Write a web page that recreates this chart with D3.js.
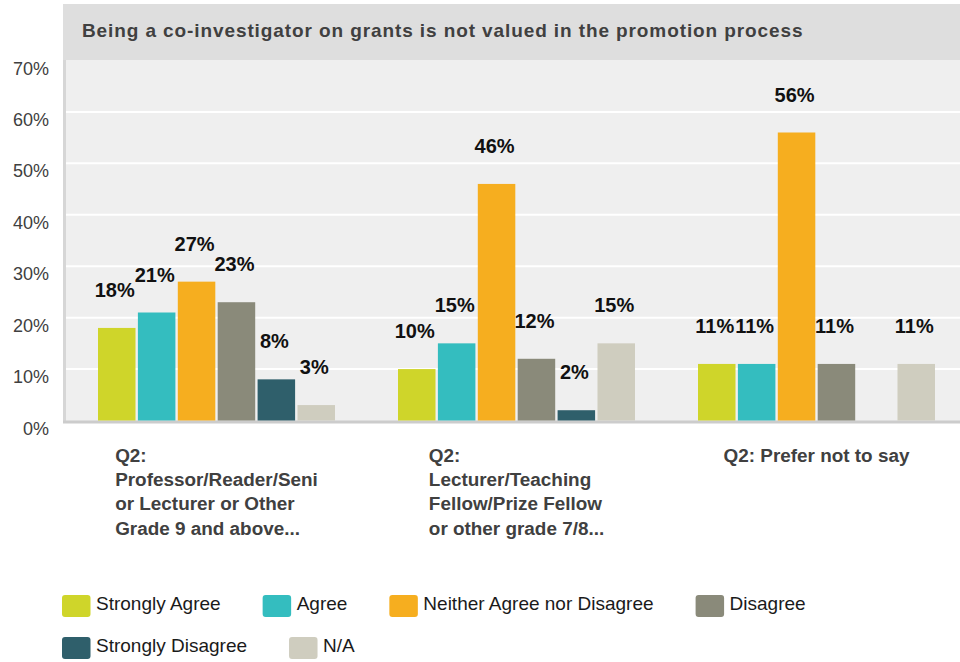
<!DOCTYPE html>
<html>
<head>
<meta charset="utf-8">
<script src="https://cdn.jsdelivr.net/npm/d3@7"></script>
<style>
  body { margin: 0; background: #fff; }
  text { font-family: "Liberation Sans", Arial, sans-serif; }
</style>
</head>
<body>
<div id="chart"></div>
<script>
let width_chart = 960;
let height_chart = 662;

const titre = "Being a co-investigator on grants is not valued in the promotion process";

// categories (already wrapped like in the original)
const groupes = ["prof", "lect", "prefer"];
const groupeLignes = [
  ["Q2:", "Professor/Reader/Seni", "or Lecturer or Other", "Grade 9 and above..."],
  ["Q2:", "Lecturer/Teaching", "Fellow/Prize Fellow", "or other grade 7/8..."],
  ["Q2: Prefer not to say"]
];

const series = ["Strongly Agree", "Agree", "Neither Agree nor Disagree", "Disagree", "Strongly Disagree", "N/A"];
const couleurs = ["#cfd52a", "#34bdbf", "#f6ae1f", "#8a8a7a", "#2f5f6b", "#cfcdbf"];

// values in % per series, one entry per group
const stronglyAgree    = [18, 10, 11];
const agree            = [21, 15, 11];
const neither          = [27, 46, 56];
const disagree         = [23, 12, 11];
const stronglyDisagree = [8, 2, 0];
const na               = [3, 15, 11];

const yTicks = [0, 10, 20, 30, 40, 50, 60, 70];

const valeurs = [stronglyAgree, agree, neither, disagree, stronglyDisagree, na];

let svg = d3.select('#chart').append('svg')
    .attr('width', width_chart)
    .attr('height', height_chart);

// title bar
svg.append("rect")
    .attr("x", 63).attr("y", 4)
    .attr("width", 897).attr("height", 56)
    .attr("fill", "#dedede");
svg.append("text")
    .attr("x", 82).attr("y", 37)
    .attr("font-size", "19px")
    .attr("font-weight", "bold")
    .attr("letter-spacing", "0.9px")
    .attr("fill", "#404040")
    .text(titre);

// plot background
svg.append("rect")
    .attr("x", 66).attr("y", 60)
    .attr("width", 894).attr("height", 361)
    .attr("fill", "#efefef");

let y = d3.scaleLinear().domain([0, 70]).range([420.5, 60.5]);
let x0 = d3.scaleBand().domain(groupes).range([66.5, 966.5])
    .paddingInner(0.21).paddingOuter(0.105);
let x1 = d3.scaleBand().domain(series).range([0, x0.bandwidth()])
    .paddingInner(0.06);

// gridlines
svg.append("g").selectAll("line")
    .data(yTicks.filter(t => t > 0 && t < 70))
    .enter().append("line")
    .attr("x1", 66).attr("x2", 960)
    .attr("y1", d => y(d)).attr("y2", d => y(d))
    .attr("stroke", "#fff").attr("stroke-width", 2);

// y tick labels
svg.append("g").selectAll("text")
    .data(yTicks)
    .enter().append("text")
    .attr("x", 49)
    .attr("y", d => y(d) + 14)
    .attr("text-anchor", "end")
    .attr("font-size", "18px")
    .attr("fill", "#404040")
    .text(d => d + "%");

// axes lines
svg.append("line")
    .attr("x1", 64.5).attr("x2", 64.5).attr("y1", 60).attr("y2", 423)
    .attr("stroke", "#d6d6d6").attr("stroke-width", 3);
svg.append("line")
    .attr("x1", 63).attr("x2", 960).attr("y1", 422).attr("y2", 422)
    .attr("stroke", "#cccccc").attr("stroke-width", 3);

// bars
let donnees = [];
groupes.forEach(function(g, gi) {
    series.forEach(function(s, si) {
        donnees.push({ groupe: g, serie: s, valeur: valeurs[si][gi], couleur: couleurs[si] });
    });
});

let cell = svg.append("g").selectAll("g")
    .data(donnees.filter(d => d.valeur > 0))
    .enter().append("g")
    .attr("transform", d => "translate(" + (x0(d.groupe) + x1(d.serie)) + ",0)");

cell.append("rect")
    .attr("x", 0)
    .attr("y", d => y(d.valeur))
    .attr("width", x1.bandwidth())
    .attr("height", d => y(0) - y(d.valeur))
    .attr("fill", d => d.couleur);

cell.append("text")
    .attr("x", x1.bandwidth() / 2 - 2)
    .attr("y", d => y(d.valeur) - 31)
    .attr("text-anchor", "middle")
    .attr("font-size", "20px")
    .attr("font-weight", "bold")
    .attr("fill", "#111")
    .text(d => d.valeur + "%");

// category labels: left-aligned lines, block centred on the group
groupes.forEach(function(g, gi) {
    let t = svg.append("text")
        .attr("font-size", "18.9px")
        .attr("font-weight", "bold")
        .attr("fill", "#404040");
    let spans = t.selectAll("tspan")
        .data(groupeLignes[gi])
        .enter().append("tspan")
        .attr("y", (d, i) => 462 + i * 24.2)
        .text(d => d);
    let maxW = d3.max(spans.nodes(), n => n.getComputedTextLength());
    spans.attr("x", x0(g) + x0.bandwidth() / 2 - maxW / 2);
});

// legend
let lx = 62, ly = 595;
series.forEach(function(s, i) {
    let item = svg.append("g");
    let label = item.append("text")
        .attr("x", 34).attr("y", 15)
        .attr("font-size", "19px")
        .attr("fill", "#1a1a1a")
        .text(s);
    let w = 34 + label.node().getComputedTextLength();
    if (lx + w > 960) { lx = 62; ly += 42; }
    item.attr("transform", "translate(" + lx + "," + ly + ")");
    item.insert("rect", "text")
        .attr("width", 28.5).attr("height", 22)
        .attr("rx", 3).attr("ry", 3)
        .attr("fill", couleurs[i]);
    lx += w + 42;
});
</script>
</body>
</html>
